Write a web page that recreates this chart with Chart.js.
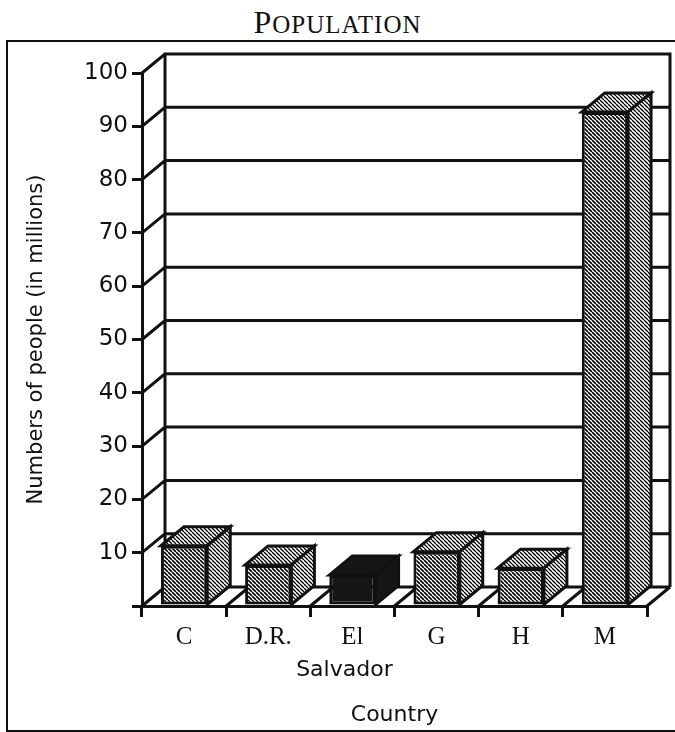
<!DOCTYPE html>
<html>
<head>
<meta charset="utf-8">
<title>Population</title>
<script src="https://cdn.jsdelivr.net/npm/chart.js@4.4.0/dist/chart.umd.min.js"></script>
<style>
  html, body { margin: 0; padding: 0; background: #fff; }
  body { width: 675px; height: 732px; position: relative; overflow: hidden; }
  .title { position: absolute; left: 0; top: 6px; width: 675px; text-align: center;
           font-family: 'Liberation Serif', serif; color: #111; letter-spacing: 1px; line-height: 1; }
  .title .big { font-size: 32px; }
  .title .small { font-size: 25px; }
  .frame { position: absolute; left: 6px; top: 40px; width: 700px; height: 688px; border: 2px solid #111; }
  canvas { position: absolute; left: 0; top: 0; }
</style>
</head>
<body>
<div class="title"><span class="big">P</span><span class="small">OPULATION</span></div>
<div class="frame"></div>
<canvas id="chartPop" width="675" height="732"></canvas>
<script>
/* =============================================
   DATA
   ============================================= */
const countries = ['C', 'D.R.', 'El Salvador', 'G', 'H', 'M'];
const population = [11.3, 7.7, 5.8, 10.2, 7.1, 92.7];   // millions
const darkBar = 'El Salvador';
const yMin = 0, yMax = 100, yStep = 10;

/* =============================================
   STYLE
   ============================================= */
const INK = '#111';
const LINE = 3;
const DEPTH = { x: 23, y: -19 };   // 3d offset of back wall / bar depth

// small tile of "\" diagonal lines, used as a canvas pattern
function hatch(step, lw) {
  const c = document.createElement('canvas');
  c.width = c.height = step;
  const g = c.getContext('2d');
  g.fillStyle = '#fff';
  g.fillRect(0, 0, step, step);
  g.strokeStyle = '#000';
  g.lineWidth = lw;
  g.beginPath();
  for (let k = -1; k <= 1; k++) {
    g.moveTo(0, k * step);
    g.lineTo(step, step + k * step);
  }
  g.stroke();
  return g.createPattern(c, 'repeat');
}
const frontHatch = hatch(4, 1.6);
const sideHatch = hatch(4, 1.3);
const darkFill = '#161616';

function poly(ctx, pts, fill) {
  ctx.beginPath();
  ctx.moveTo(pts[0][0], pts[0][1]);
  pts.slice(1).forEach(p => ctx.lineTo(p[0], p[1]));
  ctx.closePath();
  ctx.fillStyle = fill;
  ctx.fill();
  ctx.stroke();
}

/* =============================================
   3D WALLS / BAR FACES
   ============================================= */
const box3d = {
  id: 'box3d',
  beforeDatasetsDraw(chart) {
    const { ctx, chartArea: a, scales: { x, y } } = chart;
    ctx.save();
    ctx.strokeStyle = INK;
    ctx.lineWidth = LINE;
    ctx.beginPath();
    // back wall outline
    ctx.moveTo(a.left + DEPTH.x, a.bottom + DEPTH.y);
    ctx.lineTo(a.left + DEPTH.x, a.top + DEPTH.y);
    ctx.lineTo(a.right + DEPTH.x, a.top + DEPTH.y);
    ctx.lineTo(a.right + DEPTH.x, a.bottom + DEPTH.y);
    // side wall diagonals + back gridlines
    y.ticks.forEach(t => {
      const py = y.getPixelForValue(t.value);
      ctx.moveTo(a.left, py);
      ctx.lineTo(a.left + DEPTH.x, py + DEPTH.y);
      ctx.lineTo(a.right + DEPTH.x, py + DEPTH.y);
    });
    // floor dividers at category edges
    for (let i = 0; i <= countries.length; i++) {
      const px = x.getPixelForValue(i - 0.5);
      ctx.moveTo(px, a.bottom);
      ctx.lineTo(px + DEPTH.x, a.bottom + DEPTH.y);
    }
    ctx.stroke();
    ctx.restore();
  },
  afterDatasetsDraw(chart) {
    const { ctx } = chart;
    const meta = chart.getDatasetMeta(0);
    ctx.save();
    ctx.strokeStyle = INK;
    ctx.lineWidth = LINE;
    meta.data.forEach((bar, i) => {
      const { x, y, base, width } = bar.getProps(['x', 'y', 'base', 'width'], true);
      const x0 = x - width / 2, x1 = x + width / 2;
      const fill = countries[i] === darkBar ? darkFill : sideHatch;
      poly(ctx, [[x0, y], [x0 + DEPTH.x, y + DEPTH.y], [x1 + DEPTH.x, y + DEPTH.y], [x1, y]], fill);
      poly(ctx, [[x1, y], [x1 + DEPTH.x, y + DEPTH.y], [x1 + DEPTH.x, base + DEPTH.y], [x1, base]], fill);
    });
    ctx.restore();
  },
  afterDraw(chart) {
    // second word of a label goes underneath, in the sans face
    const { ctx, scales: { x } } = chart;
    ctx.save();
    ctx.fillStyle = INK;
    ctx.font = '22px "DejaVu Sans"';
    ctx.textAlign = 'center';
    ctx.textBaseline = 'middle';
    countries.forEach((c, i) => {
      const rest = c.split(' ').slice(1).join(' ');
      if (rest) ctx.fillText(rest, x.getPixelForValue(i) - 8, 670);
    });
    ctx.restore();
  }
};

/* =============================================
   CHART
   ============================================= */
new Chart(document.getElementById('chartPop'), {
  type: 'bar',
  data: {
    labels: countries,
    datasets: [{
      data: population,
      backgroundColor: countries.map(c => c === darkBar ? darkFill : frontHatch),
      borderColor: INK,
      borderWidth: LINE,
      borderSkipped: false,
      barPercentage: 0.55,
      categoryPercentage: 1
    }]
  },
  options: {
    responsive: false,
    animation: false,
    devicePixelRatio: 1,
    layout: { padding: { top: 73, right: 28, bottom: 0, left: 0 } },
    plugins: { legend: { display: false }, tooltip: { enabled: false } },
    scales: {
      x: {
        grid: { offset: true, drawOnChartArea: false, tickLength: 11, color: INK, lineWidth: LINE },
        border: { color: INK, width: LINE },
        ticks: {
          color: INK,
          font: { family: 'Liberation Serif', size: 25 },
          padding: 5,
          maxRotation: 0,
          autoSkip: false,
          callback(v) { return this.getLabelForValue(v).split(' ')[0]; }
        },
        title: {
          display: true, text: 'Country', color: INK,
          font: { family: 'DejaVu Sans', size: 22, lineHeight: 1.2 },
          padding: { top: 0, bottom: 4 }
        },
        afterFit(s) { s.height = 126; }
      },
      y: {
        min: yMin, max: yMax,
        grid: { drawOnChartArea: false, tickLength: 10, color: INK, lineWidth: LINE },
        border: { color: INK, width: LINE },
        ticks: {
          stepSize: yStep,
          color: INK,
          font: { family: 'DejaVu Sans', size: 23 },
          padding: 4,
          callback: v => v === 0 ? '' : v
        },
        title: {
          display: true, text: 'Numbers of people (in millions)', color: INK,
          font: { family: 'DejaVu Sans', size: 21, lineHeight: 1.2 },
          padding: { top: 24, bottom: 0 }
        },
        afterFit(s) { s.width = 142; }
      }
    }
  },
  plugins: [box3d]
});
</script>
</body>
</html>
